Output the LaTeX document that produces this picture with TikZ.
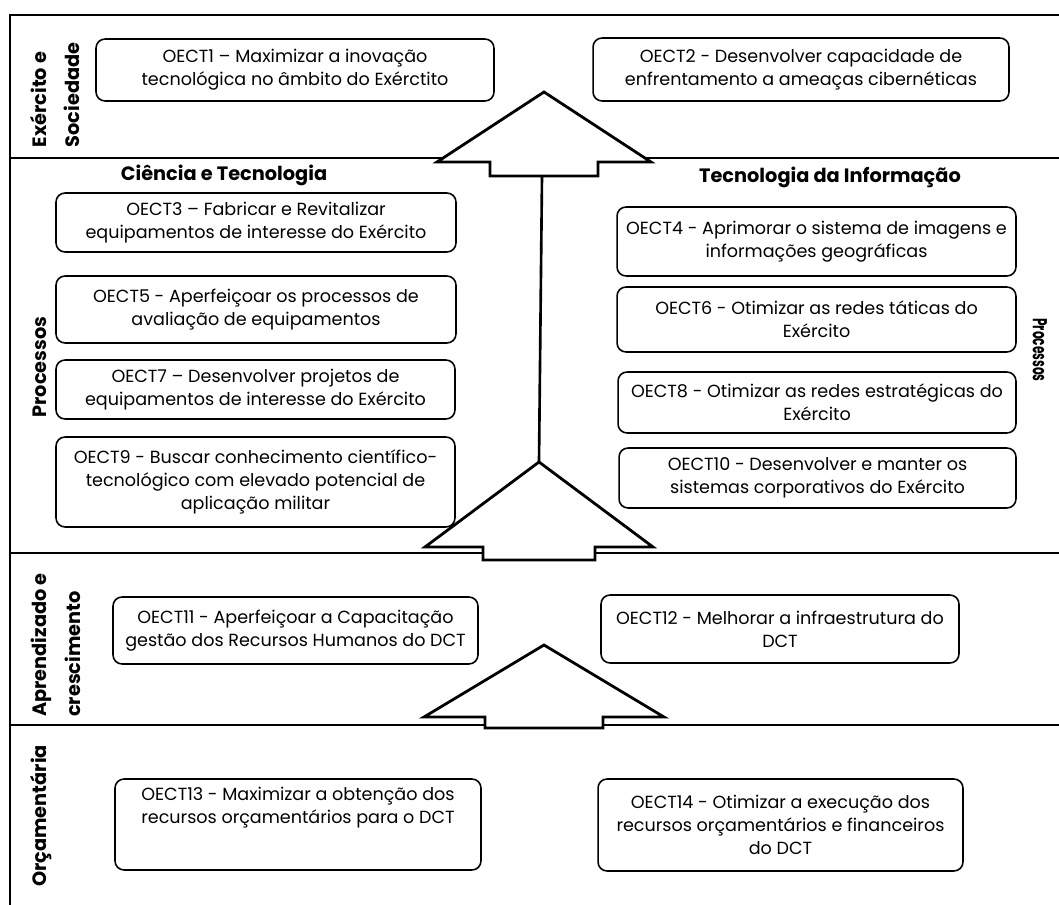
\documentclass[tikz,border=0pt]{standalone}
\usepackage{fontspec}
\setmainfont{Poppins}
\usetikzlibrary{calc}
\def\blockarrow(#1,#2)(#3:#4:#5:#6){\draw[arrowshape] (#1,#2) -- ({#1+#3},#4) -- ({#1+#5},#4) -- ({#1+#5},#6) -- ({#1-#5},#6) -- ({#1-#5},#4) -- ({#1-#3},#4) -- cycle;}
\tikzset{
	objbox/.style={draw, rounded corners=0.18cm, line width=0.9pt, fill=white, inner sep=0pt, align=center, font=\fontsize{10}{13}\selectfont},
	lanelabel/.style={rotate=90, align=left, font=\bfseries\fontsize{11}{19}\selectfont},
	grouptitle/.style={font=\bfseries\fontsize{11}{13}\selectfont},
	laneline/.style={line width=1.3pt},
	arrowshape/.style={draw, fill=white, line width=1.6pt, line join=miter},
}

\begin{document}
\begin{tikzpicture}[x=0.02cm, y=-0.02cm]
			%%%%% START %%%%%
			\useasboundingbox (0,0) rectangle (1059,905);
			
			\draw[laneline] (1059,15) -- (10,15) -- (10,905);
			\draw[laneline] (10,158) -- (1059,158);
			\draw[laneline] (10,553) -- (1059,553);
			\draw[laneline] (10,725) -- (1059,725);
			
			\node[lanelabel] (lblsoc) at (55,95) {Exército e\\Sociedade};
			\node[lanelabel] (lblproc) at (40,367) {Processos};
			\node[lanelabel] (lblapr) at (56,645) {Aprendizado e\\crescimento};
			\node[lanelabel] (lblorc) at (41,816) {Orçamentária};
			\node[rotate=-90, font=\bfseries\fontsize{11.5}{13}\selectfont] (lblprocr) at (1040,350) {\scalebox{0.6}[1]{Processos}};
			
			\node[grouptitle] (titct) at (224,175) {Ciência e Tecnologia};
			\node[grouptitle] (titti) at (830,177) {Tecnologia da Informação};
			
			\node[objbox, minimum width=7.96cm, minimum height=1.24cm] (oect1) at (295,70) {OECT1 – Maximizar a inovação\\tecnológica no âmbito do Exérctito};
			\node[objbox, minimum width=8.32cm, minimum height=1.26cm] (oect2) at (801,69.5) {OECT2 - Desenvolver capacidade de\\enfrentamento a ameaças cibernéticas};
			
			\node[objbox, minimum width=8cm, minimum height=1.18cm] (oect3) at (256,222.5) {OECT3 – Fabricar e Revitalizar\\equipamentos de interesse do Exército};
			\node[objbox, minimum width=8cm, minimum height=1.34cm] (oect5) at (256,309.5) {OECT5 - Aperfeiçoar os processos de\\avaliação de equipamentos};
			\node[objbox, minimum width=7.98cm, minimum height=1.18cm] (oect7) at (255.5,389.5) {OECT7 – Desenvolver projetos de\\equipamentos de interesse do Exército};
			\node[objbox, minimum width=7.98cm, minimum height=1.8cm] (oect9) at (255.5,482) {OECT9 - Buscar conhecimento científico-\\tecnológico com elevado potencial de\\aplicação militar};
			
			\node[objbox, minimum width=7.98cm, minimum height=1.38cm] (oect4) at (816.5,241.5) {OECT4 - Aprimorar o sistema de imagens e\\informações geográficas};
			\node[objbox, minimum width=7.98cm, minimum height=1.3cm] (oect6) at (816.5,319.5) {OECT6 - Otimizar as redes táticas do\\Exército};
			\node[objbox, minimum width=7.96cm, minimum height=1.22cm] (oect8) at (817,402.5) {OECT8 - Otimizar as redes estratégicas do\\Exército};
			\node[objbox, minimum width=7.94cm, minimum height=1.2cm] (oect10) at (817.5,478) {OECT10 - Desenvolver e manter os\\sistemas corporativos do Exército};
			
			\node[objbox, minimum width=7.3cm, minimum height=1.34cm] (oect11) at (295.5,630.5) {OECT11 - Aperfeiçoar a Capacitação\\gestão dos Recursos Humanos do DCT};
			\node[objbox, minimum width=7.16cm, minimum height=1.36cm] (oect12) at (780,629) {OECT12 - Melhorar a infraestrutura do\\DCT};
			
			\node[objbox, minimum width=7.32cm, minimum height=1.82cm] (oect13) at (298,824.5) {OECT13 - Maximizar a obtenção dos\\recursos orçamentários para o DCT\\[0.9em]};
			\node[objbox, minimum width=7.3cm, minimum height=1.84cm] (oect14) at (780.5,825) {OECT14 - Otimizar a execução dos\\recursos orçamentários e financeiros\\do DCT};
			
			\blockarrow(544,92)(107:162:54:176)
			\blockarrow(539,462)(114:547:56:560)
			\blockarrow(544,645)(120:717:59:728)
			
			\coordinate (arrowtopfoot) at (542,176);
			\coordinate (arrowmidtip) at (539,462);
			\draw[line width=1.5pt] (arrowtopfoot) -- (arrowmidtip);
			%%%%% END %%%%%
\end{tikzpicture}
\end{document}
